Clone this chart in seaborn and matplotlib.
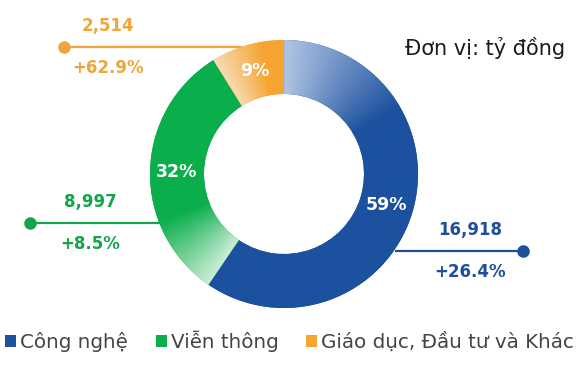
import numpy as np
import matplotlib
matplotlib.use("Agg")
import matplotlib.pyplot as plt
import seaborn as sns
from matplotlib.patches import Patch
from matplotlib.colors import to_rgb

# ---- data ----
categories = ["Công nghệ", "Viễn thông", "Giáo dục, Đầu tư và Khác"]
values = [16918, 8997, 2514]
growth = ["+26.4%", "+8.5%", "+62.9%"]
pct_labels = ["59%", "32%", "9%"]
unit_label = "Đơn vị: tỷ đồng"

# ---- style ----
full_colors = ["#1c519f", "#0aae4b", "#f6a432"]
light_colors = ["#b3c6e4", "#cdeed8", "#f8dcb4"]
text_colors = ["#1f4f98", "#14a54b", "#f0a53c"]
ramps = [60, 35, 22]  # degrees over which each wedge goes from light to full

sns.set_theme(style="white")
plt.rcParams["font.family"] = ["DejaVu Sans"]

W, H = 583, 365
fig = plt.figure(figsize=(W / 100, H / 100), dpi=100)
ax = fig.add_axes([0, 0, 1, 1])

cx, cy, R, width = 284, H - 174, 134, 54
wedges, _ = ax.pie(values, startangle=90, counterclock=False, radius=R,
                   center=(cx, cy), colors=full_colors,
                   wedgeprops=dict(width=width, linewidth=0))

# angular gradients clipped to each wedge
n = 400
xs = np.linspace(cx - R, cx + R, n)
ys = np.linspace(cy - R, cy + R, n)
X, Y = np.meshgrid(xs, ys)
theta = np.degrees(np.arctan2(X - cx, Y - cy)) % 360  # clockwise from top
fracs = np.array(values) / np.sum(values)
starts = np.concatenate([[0], np.cumsum(fracs)[:-1]]) * 360
for w, s, ramp, lc, fc in zip(wedges, starts, ramps, light_colors, full_colors):
    t = np.clip(((theta - s) % 360) / ramp, 0, 1)[..., None]
    img = np.array(to_rgb(lc)) * (1 - t) + np.array(to_rgb(fc)) * t
    im = ax.imshow(img, extent=(cx - R, cx + R, cy - R, cy + R),
                   origin="lower", interpolation="bilinear", zorder=2)
    im.set_clip_path(w)

# percentage labels inside the ring
mid_r = R - width / 2
for s, f, lab in zip(starts, fracs, pct_labels):
    a = np.radians(s + f * 360 / 2)
    ax.text(cx + mid_r * np.sin(a), cy + mid_r * np.cos(a), lab, color="white",
            fontsize=12.5, fontweight="bold", ha="center", va="center", zorder=5)

# callouts (value + growth)
callouts = [  # (dot x, line end x, y px, text x)
    (523, 395, 251, 470),
    (30, 160, 223, 90),
    (64, 242, 47, 108),
]
for (dx, ex, ypx, tx), c, v, g in zip(callouts, text_colors, values, growth):
    y = H - ypx
    ax.plot([dx, ex], [y, y], color=c, lw=1.6, zorder=1, solid_capstyle="butt")
    ax.plot([dx], [y], "o", color=c, ms=8, zorder=3)
    ax.text(tx, y + 21, f"{v:,}", color=c, fontsize=12, fontweight="bold",
            ha="center", va="center")
    ax.text(tx, y - 21, g, color=c, fontsize=12, fontweight="bold",
            ha="center", va="center")

ax.text(485, H - 48, unit_label, color="#1a1a1a", fontsize=15,
        ha="center", va="center")

ax.set_xlim(0, W)
ax.set_ylim(0, H)
ax.set_aspect("equal")
ax.axis("off")

handles = [Patch(facecolor=c, edgecolor="none") for c in full_colors]
fig.legend(handles, categories, loc="center", bbox_to_anchor=(0.497, 1 - 341 / H),
           ncol=3, frameon=False, fontsize=14.3, handlelength=0.55, handleheight=0.55,
           handletextpad=0.2, columnspacing=1.4, labelcolor="#444444",
           borderaxespad=0, borderpad=0)

fig.savefig("out.png", dpi=100, facecolor="white")
